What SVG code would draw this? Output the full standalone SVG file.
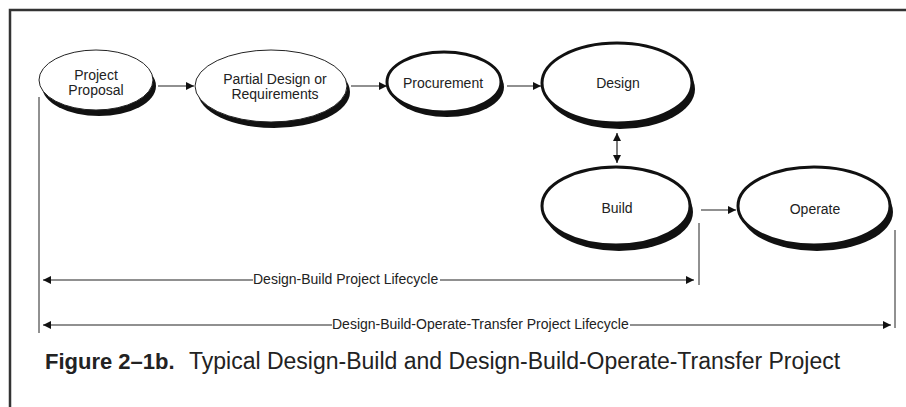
<svg xmlns="http://www.w3.org/2000/svg" width="906" height="407" viewBox="0 0 906 407">
<defs>
<style>
.frame{fill:none;stroke:#333;stroke-width:2.5}
.shadow{fill:#111;stroke:none}
.thin{fill:#fff;stroke:#222;stroke-width:1}
.thick{fill:#fff;stroke:#111;stroke-width:3}
.lbl{font-family:"Liberation Sans",Arial,sans-serif;font-size:14px;fill:#222;text-anchor:middle}
.life{font-family:"Liberation Sans",Arial,sans-serif;font-size:14px;fill:#222}
.conn{fill:none;stroke:#222;stroke-width:1.2}
.tick{fill:none;stroke:#222;stroke-width:1}
.cap{font-family:"Liberation Sans",Arial,sans-serif;font-size:22px;fill:#222}
</style>
<marker id="ah" viewBox="0 0 10 10" refX="10" refY="5" markerWidth="8" markerHeight="8" markerUnits="userSpaceOnUse" orient="auto-start-reverse">
<path d="M0,0 L10,5 L0,10 z" fill="#111"/>
</marker>
</defs>
<rect width="906" height="407" fill="#fff"/>
<path class="frame" d="M10,407 V10 H906"/>

<g id="project-proposal">
<ellipse class="shadow" cx="99" cy="86" rx="57" ry="30"/>
<ellipse class="thin" cx="96" cy="80" rx="57" ry="30"/>
<text class="lbl" x="96" y="80">Project</text>
<text class="lbl" x="96" y="95">Proposal</text>
</g>

<g id="partial-design">
<ellipse class="shadow" cx="274" cy="92" rx="76" ry="36"/>
<ellipse class="thin" cx="271" cy="86" rx="76" ry="36"/>
<text class="lbl" x="275" y="84">Partial Design or</text>
<text class="lbl" x="275" y="99">Requirements</text>
</g>

<g id="procurement">
<ellipse class="shadow" cx="447" cy="87" rx="57" ry="30"/>
<ellipse class="thick" cx="444" cy="82" rx="57" ry="30"/>
<text class="lbl" x="443" y="88">Procurement</text>
</g>

<g id="design">
<ellipse class="shadow" cx="620" cy="89" rx="75" ry="40"/>
<ellipse class="thick" cx="617" cy="83" rx="75" ry="40"/>
<text class="lbl" x="618" y="88">Design</text>
</g>

<g id="build">
<ellipse class="shadow" cx="619" cy="212" rx="74" ry="39"/>
<ellipse class="thick" cx="616" cy="206" rx="74" ry="39"/>
<text class="lbl" x="617" y="213">Build</text>
</g>

<g id="operate">
<ellipse class="shadow" cx="817" cy="212" rx="76" ry="39"/>
<ellipse class="thick" cx="814" cy="206" rx="76" ry="39"/>
<text class="lbl" x="815" y="214">Operate</text>
</g>

<g id="connectors">
<line class="conn" x1="158" y1="86" x2="194" y2="86" marker-end="url(#ah)"/>
<line class="conn" x1="351" y1="86" x2="387" y2="86" marker-end="url(#ah)"/>
<line class="conn" x1="507" y1="86" x2="541" y2="86" marker-end="url(#ah)"/>
<line class="conn" x1="617" y1="133" x2="617" y2="163" marker-start="url(#ah)" marker-end="url(#ah)"/>
<line class="conn" x1="701" y1="210" x2="736" y2="210" marker-end="url(#ah)"/>
<line class="tick" x1="39" y1="97" x2="39" y2="333"/>
<line class="tick" x1="699" y1="223" x2="699" y2="285"/>
<line class="tick" x1="895" y1="230" x2="895" y2="328"/>
<path class="conn" d="M43,280 H253 M440,280 H694" marker-start="url(#ah)" marker-end="url(#ah)"/>
<path class="conn" d="M43,325 H332 M630,325 H891" marker-start="url(#ah)" marker-end="url(#ah)"/>
</g>

<g id="labels">
<text class="life" x="253" y="284">Design-Build Project Lifecycle</text>
<text class="life" x="332" y="329">Design-Build-Operate-Transfer Project Lifecycle</text>
</g>

<text class="cap" x="45" y="369"><tspan font-weight="bold">Figure 2–1b.</tspan><tspan x="189" font-size="23">Typical Design-Build and Design-Build-Operate-Transfer Project</tspan></text>
</svg>
